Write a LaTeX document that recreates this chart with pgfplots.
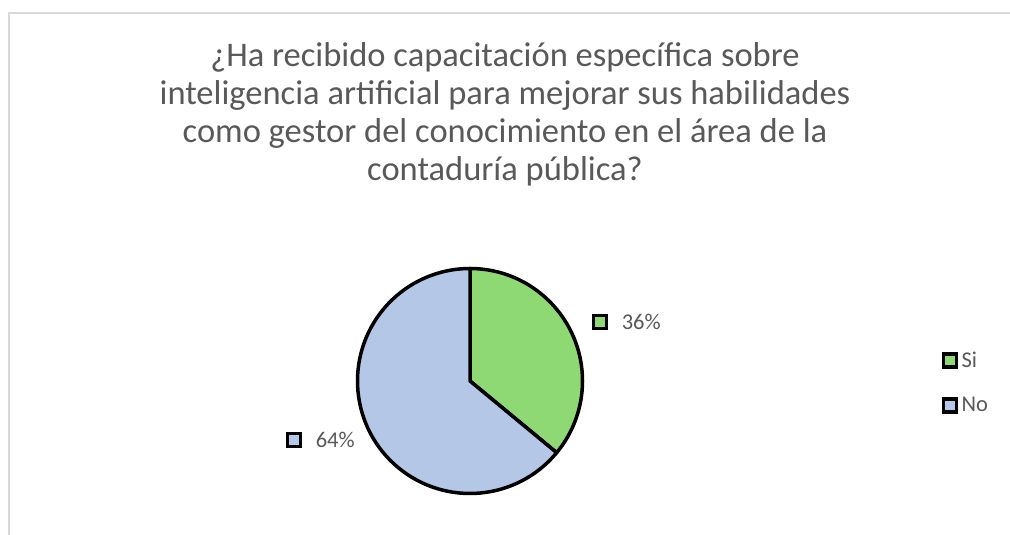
\documentclass[border=0pt]{standalone}
\usepackage{pgfplots}
\pgfplotsset{compat=1.18}
\usepackage{pgfplotstable}
\usepackage{fontspec}
\setmainfont{Carlito}
\definecolor{sigreen}{HTML}{8FD975}
\definecolor{noblue}{HTML}{B4C7E7}
\definecolor{txt}{HTML}{595959}
\definecolor{framec}{HTML}{D9D9D9}

\pgfplotstableread{
label value
Si 36
No 64
}\piedata

\begin{document}
\begin{tikzpicture}
\path[use as bounding box, fill=white] (0pt,0pt) rectangle (1010pt,535pt);
\draw[framec, line width=1.5pt] (9pt,-5pt) -- (9pt,522pt) -- (1015pt,522pt);
\begin{scope}[every node/.style={text=txt, font=\fontsize{34.5}{40}\selectfont, anchor=base, inner sep=0pt}]
\node at (505pt,468pt) {¿Ha recibido capacitación específica sobre};
\node at (505pt,430pt) {inteligencia artificial para mejorar sus habilidades};
\node at (505pt,392pt) {como gestor del conocimiento en el área de la};
\node at (505pt,354pt) {contaduría pública?};
\end{scope}
\pgfplotstablegetelem{0}{value}\of\piedata \edef\vSi{\pgfplotsretval}
\pgfplotstablegetelem{1}{value}\of\piedata \edef\vNo{\pgfplotsretval}
\pgfmathsetmacro\aSi{90-3.6*\vSi}
\pgfmathsetmacro\aNo{\aSi-3.6*\vNo}
\pgfmathsetmacro\cSi{cos(\aSi)}
\pgfmathsetmacro\sSi{sin(\aSi)}
\begin{axis}[at={(470pt,154pt)}, anchor=origin, width=225pt, height=225pt,
  scale only axis, xmin=-1, xmax=1, ymin=-1, ymax=1, hide axis, clip=false,
  legend cell align=left,
  legend style={at={(axis cs:4.209,0.258)}, anchor=north west, draw=none, fill=none,
    inner sep=0pt, outer sep=0pt, row sep=28.5pt,
    nodes={inner xsep=5pt, inner ysep=0pt, text=txt, font=\fontsize{22.5}{27}\selectfont}},
  ]
\draw[black, line width=3.5pt, line join=round, fill=sigreen]
  (axis cs:0,0) -- (axis cs:0,1) arc[start angle=90, end angle=\aSi, radius=112.5pt] -- cycle;
\draw[black, line width=3.5pt, line join=round, fill=noblue]
  (axis cs:0,0) -- (axis cs:\cSi,\sSi) arc[start angle=\aSi, end angle=\aNo, radius=112.5pt] -- cycle;
\addplot[only marks, mark=square*, mark size=6.5pt,
  mark options={fill=sigreen, draw=black, line width=3.5pt},
  point meta=explicit symbolic, nodes near coords={\pgfplotspointmeta\%},
  every node near coord/.append style={anchor=west, xshift=20pt, inner sep=0pt, text=txt, font=\fontsize{22.5}{27}\selectfont}]
  coordinates {(1.156,0.524) [36]};
\addplot[only marks, mark=square*, mark size=6.5pt,
  mark options={fill=noblue, draw=black, line width=3.5pt},
  point meta=explicit symbolic, nodes near coords={\pgfplotspointmeta\%},
  every node near coord/.append style={anchor=west, xshift=20pt, inner sep=0pt, text=txt, font=\fontsize{22.5}{27}\selectfont}]
  coordinates {(-1.564,-0.524) [64]};
\addlegendimage{legend image code/.code={\draw[black, line width=3.5pt, fill=sigreen] (0pt,-7pt) rectangle (14pt,7pt);}}
\addlegendentry{Si}
\addlegendimage{legend image code/.code={\draw[black, line width=3.5pt, fill=noblue] (0pt,-7pt) rectangle (14pt,7pt);}}
\addlegendentry{No}
\end{axis}
\end{tikzpicture}
\end{document}
